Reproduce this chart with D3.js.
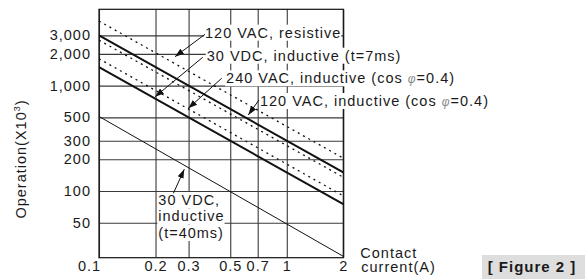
<!DOCTYPE html>
<html lang="en">
<head>
<meta charset="UTF-8">
<title>Contact current vs operations</title>
<script src="https://d3js.org/d3.v7.min.js"></script>
<style>
  body { margin: 0; background: #fff; }
  text { font-family: "Liberation Sans", Arial, sans-serif; fill: #1a1a1a; letter-spacing: 1px; }
</style>
</head>
<body>
<div id="chart"></div>
<script>
// tick values and labels
var xTicks = [0.1, 0.2, 0.3, 0.5, 0.7, 1, 2];
var xTickLabels = ["0.1", "0.2", "0.3", "0.5", "0.7", "1", "2"];
var yTicks = [3000, 2000, 1000, 500, 300, 200, 100, 50];
var yTickLabels = ["3,000", "2,000", "1,000", "500", "300", "200", "100", "50"];

// each curve is a straight line on log-log paper, read at 0.1 A and 2 A
var current = [0.1, 2];
var vac120Resistive = [4100, 205];
var vac120Inductive = [3000, 150];
var dottedMiddle = [2700, 135];
var vac240Inductive = [1800, 90];
var vdc30Inductive7ms = [1500, 75];
var vdc30Inductive40ms = [510, 24];

// callouts: text, where the text sits, where the arrow starts and where it points (data units)
var labels = [
  ["120 VAC, resistive"],
  ["30 VDC, inductive (t=7ms)"],
  ["240 VAC, inductive (cos φ=0.4)"],
  ["120 VAC, inductive (cos φ=0.4)"],
  ["30 VDC,", "inductive", "(t=40ms)"]
];
var labelAt = [[0.367, 2850], [0.375, 1725], [0.475, 1052], [0.72, 641], [0.207, 73.7]];
var arrowFrom = [[0.367, 3070], [0.357, 1858], [0.45, 1174], [0.711, 731], [0.249, 95.2]];
var arrowTo = [[0.254, 1882], [0.199, 785], [0.299, 609], [0.624, 527], [0.2845, 160.8]];

var width = 585, height = 280;
var pLeft = 99, pRight = 343.3, pTop = 9.3, pBottom = 257.7;

var svg = d3.select("#chart").append("svg")
    .attr("width", width)
    .attr("height", height);

var x = d3.scaleLog().domain([0.1, 2]).range([pLeft, pRight]);
var y = d3.scaleLog().domain([23.3, 5300]).range([pBottom, pTop]);

svg.append("defs").append("marker")
    .attr("id", "head")
    .attr("viewBox", "0 0 10 10")
    .attr("refX", 10).attr("refY", 5)
    .attr("markerWidth", 9).attr("markerHeight", 9)
    .attr("markerUnits", "userSpaceOnUse")
    .attr("orient", "auto")
    .append("path")
    .attr("d", "M0,1.5 L10,5 L0,8.5 Z")
    .attr("fill", "#111");

// grid + tick labels
var gx = svg.append("g")
    .attr("transform", "translate(0," + pBottom + ")")
    .call(d3.axisBottom(x).tickValues(xTicks)
        .tickFormat(function (d, i) { return xTickLabels[i]; })
        .tickSize(-(pBottom - pTop)).tickPadding(3.5));
var gy = svg.append("g")
    .attr("transform", "translate(" + pLeft + ",0)")
    .call(d3.axisLeft(y).tickValues(yTicks)
        .tickFormat(function (d, i) { return yTickLabels[i]; })
        .tickSize(-(pRight - pLeft)).tickPadding(8));
[gx, gy].forEach(function (g) {
    g.select(".domain").remove();
    g.selectAll("line").attr("stroke", "#3a3a3a").attr("stroke-width", 1.1);
    g.selectAll("text").style("font-size", "14.5px").attr("fill", "#1a1a1a");
});
gx.selectAll("text").filter(function (d) { return d === 0.1; }).attr("dx", -10);

svg.append("rect")
    .attr("x", pLeft).attr("y", pTop)
    .attr("width", pRight - pLeft).attr("height", pBottom - pTop)
    .attr("fill", "none").attr("stroke", "#111").attr("stroke-width", 1.2);

// curves
var curves = [
    { v: vac120Resistive, w: 1.3, dash: "2,4" },
    { v: vac120Inductive, w: 2, dash: null },
    { v: dottedMiddle, w: 1.3, dash: "2,4" },
    { v: vac240Inductive, w: 1.3, dash: "2,4" },
    { v: vdc30Inductive7ms, w: 2, dash: null },
    { v: vdc30Inductive40ms, w: 1, dash: null }
];
var line = d3.line()
    .x(function (d) { return x(d[0]); })
    .y(function (d) { return y(d[1]); });
curves.forEach(function (c) {
    svg.append("path")
        .datum(current.map(function (a, i) { return [a, c.v[i]]; }))
        .attr("fill", "none")
        .attr("stroke", "#111")
        .attr("stroke-width", c.w)
        .attr("stroke-dasharray", c.dash)
        .attr("d", line);
});

// callout labels with white backing, then arrows
labels.forEach(function (rows, k) {
    rows.forEach(function (row, r) {
        var t = svg.append("text")
            .attr("x", x(labelAt[k][0]))
            .attr("y", y(labelAt[k][1]) + r * 16.5)
            .style("font-size", "14.5px");
        var parts = row.split("φ");
        t.append("tspan").text(parts[0]);
        if (parts.length > 1) {
            t.append("tspan").text("φ")
                .style("font-size", "12px").style("font-style", "italic")
                .attr("fill", "#8a8a8a");
            t.append("tspan").text(parts[1]);
        }
        var b = t.node().getBBox();
        svg.insert("rect", function () { return t.node(); })
            .attr("x", b.x - 1).attr("y", b.y)
            .attr("width", b.width + 1).attr("height", b.height)
            .attr("fill", "#fff");
    });
    svg.append("line")
        .attr("x1", x(arrowFrom[k][0])).attr("y1", y(arrowFrom[k][1]))
        .attr("x2", x(arrowTo[k][0])).attr("y2", y(arrowTo[k][1]))
        .attr("stroke", "#111").attr("stroke-width", 1)
        .attr("marker-end", "url(#head)");
});

// axis titles
svg.append("text")
    .attr("transform", "rotate(-90)")
    .attr("x", -159).attr("y", 26)
    .attr("text-anchor", "middle")
    .style("font-size", "14.5px")
    .text("Operation(X10")
    .call(function (t) {
        t.append("tspan").text("3").style("font-size", "9px").attr("dy", -6);
        t.append("tspan").text(")").attr("dy", 6);
    });
svg.append("text").attr("x", pRight + 17).attr("y", 258)
    .style("font-size", "14.5px").text("Contact");
svg.append("text").attr("x", pRight + 18).attr("y", 271.5)
    .style("font-size", "14.5px").text("current(A)");

// figure tag
svg.append("rect")
    .attr("x", 482).attr("y", 255).attr("width", 103).attr("height", 24)
    .attr("fill", "#dedede");
svg.append("text")
    .attr("x", 532).attr("y", 272)
    .attr("text-anchor", "middle")
    .style("font-size", "15px").style("font-weight", "bold")
    .attr("fill", "#333")
    .text("[ Figure 2 ]");
</script>
</body>
</html>
